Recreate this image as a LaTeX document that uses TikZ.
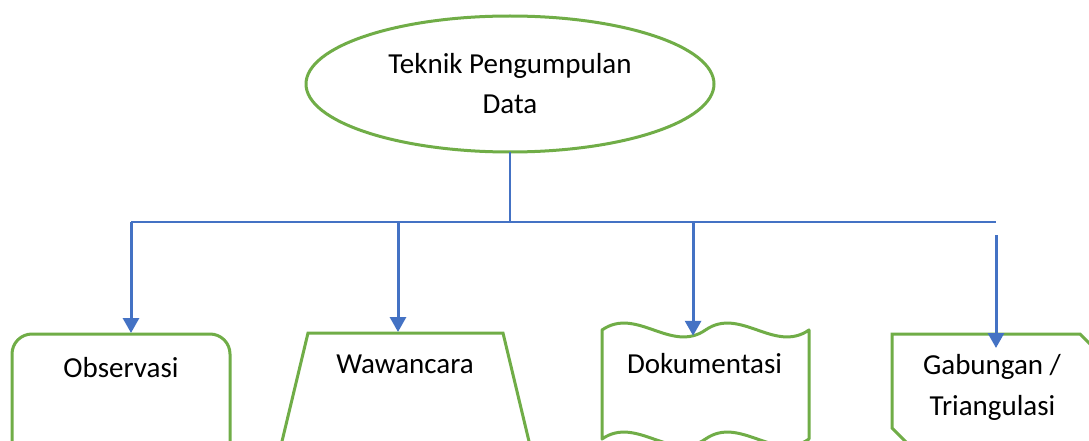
\documentclass[tikz,border=0pt]{standalone}
\usepackage{fontspec}
\setmainfont{Carlito}
\usetikzlibrary{shapes.geometric,arrows.meta,calc}
\definecolor{leafgreen}{HTML}{70AD47}
\definecolor{linkblue}{HTML}{4472C4}
\begin{document}
\begin{tikzpicture}[x=1pt,y=-1pt,
  outline/.style={draw=leafgreen,line width=3pt},
  slot/.style={rectangle,draw=none,inner sep=0pt,outer sep=0pt},
  busline/.style={draw=linkblue,line width=1.3pt},
  feed/.style={draw=linkblue,line width=3pt,-{Triangle[length=15pt,width=16pt]}},
  txt/.style={font=\fontsize{29}{40}\selectfont,align=center,inner sep=0pt}]
\useasboundingbox (0,0) rectangle (1089,441);
\fill[white] (0,0) rectangle (1089,441);
\begin{scope}
\clip (0,0) rectangle (1089,441);

% top ellipse
\node[ellipse,outline,txt,minimum width=408pt,minimum height=136pt,outer sep=0pt]
  (root) at (510,84) {Teknik Pengumpulan\\Data};

% distribution bus
\coordinate (busrow) at (0,222);
\coordinate (hub) at (root.south |- busrow);
\coordinate (bus-w) at (131,222);
\coordinate (bus-e) at (996,222);
\draw[busline] (root.south) -- (hub);
\draw[busline] (bus-w) -- (bus-e);

% Observasi: rounded rectangle
\node[outline,rectangle,rounded corners=20pt,minimum width=218pt,minimum height=146pt,
  anchor=north,inner sep=0pt,outer sep=0pt] (obs) at (121,334) {};

% Wawancara: trapezoid widening downwards
\node[slot,minimum width=195pt,minimum height=150pt,anchor=north] (waw) at (405.5,333) {};
\draw[outline] ($(waw.south west)+(-36,0)$) -- (waw.north west) -- (waw.north east)
  -- ($(waw.south east)+(36,0)$);

% Dokumentasi: double wave
\node[slot,minimum width=207pt,minimum height=109pt,anchor=north west] (dok) at (602,330) {};
\draw[outline,line join=round] (dok.north west)
  .. controls +(34.5,-24) and +(-34.5,24) .. coordinate[pos=0.88] (dok-in) ++(103.5,0)
  .. controls +(34.5,-24) and +(-34.5,24) .. (dok.north east)
  -- (dok.south east)
  .. controls +(-34.5,24) and +(34.5,-24) .. ++(-103.5,0)
  .. controls +(-34.5,24) and +(34.5,-24) .. (dok.south west)
  -- cycle;

% Gabungan / Triangulasi: snipped diagonal corners
\node[slot,minimum width=208pt,minimum height=114pt,anchor=north west] (gab) at (892,334) {};
\draw[outline] (gab.north west) -- ($(gab.north east)+(-20,0)$) -- ($(gab.north east)+(0,20)$)
  -- (gab.south east) -- ($(gab.south west)+(20,0)$) -- ($(gab.south west)+(0,-20)$) -- cycle;

% arrows from the bus
\coordinate (j-waw) at (398,222);
\coordinate (j-dok) at (dok-in |- busrow);
\coordinate (gab-from) at (996,235);
\coordinate (gab-tip) at (996,348);
\draw[feed] (bus-w) -- ([yshift=1pt]bus-w |- obs.north);
\draw[feed] (j-waw) -- ([yshift=1pt]j-waw |- waw.north);
\draw[feed] (j-dok) -- (dok-in);
\draw[feed] (gab-from) -- (gab-tip);

% labels
\node[txt,anchor=base] (obs-t) at (121,377) {Observasi};
\node[txt,anchor=base] (waw-t) at (405,373) {Wawancara};
\node[txt,anchor=base] (dok-t) at (704.5,373) {Dokumentasi};
\node[txt,anchor=base] (gab-t1) at (992,374) {Gabungan /};
\node[txt,anchor=base] (gab-t2) at (992.5,415) {Triangulasi};
\end{scope}
\end{tikzpicture}
\end{document}
